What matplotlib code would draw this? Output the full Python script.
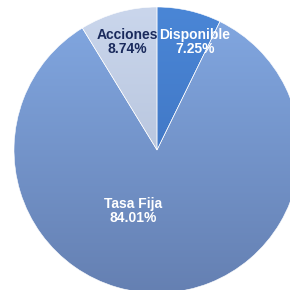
import numpy as np
import matplotlib.pyplot as plt
from matplotlib.colors import to_rgb

# Portfolio composition
labels = ["Disponible", "Tasa Fija", "Acciones"]
shares = [7.25, 84.01, 8.74]
top_colors = ["#4A86D6", "#82A8E2", "#CAD6EC"]
bottom_colors = ["#3A6CB8", "#6580B2", "#A9B8D2"]
text_colors = ["white", "white", "#1A2A5C"]
label_pos = [(195, 42), (133, 211), (127, 42)]  # pixel positions (from top-left)

W = H = 290
fig = plt.figure(figsize=(2.9, 2.9), dpi=100)
ax = fig.add_axes([0, 0, 1, 1])
ax.set_xlim(0, W)
ax.set_ylim(0, H)
ax.set_aspect("equal")
ax.axis("off")

center = (157, H - 150)
radius = 143

wedges, _ = ax.pie(shares, startangle=90, counterclock=False, center=center,
                   radius=radius, frame=True,
                   wedgeprops=dict(edgecolor="white", linewidth=0.4))
ax.set_xlim(0, W)
ax.set_ylim(0, H)
ax.axis("off")

# vertical gradient fill clipped to each wedge
ys = np.linspace(0, 1, 256)[:, None]
for w, c0, c1 in zip(wedges, top_colors, bottom_colors):
    a, b = np.array(to_rgb(c0)), np.array(to_rgb(c1))
    grad = a[None, None, :] * (1 - ys[..., None]) + b[None, None, :] * ys[..., None]
    grad = np.repeat(grad, 2, axis=1)
    w.set_facecolor("none")
    im = ax.imshow(grad, extent=(center[0] - radius, center[0] + radius,
                                 center[1] - radius, center[1] + radius),
                   origin="upper", aspect="auto", zorder=w.get_zorder() - 0.1,
                   interpolation="bilinear")
    im.set_clip_path(w)

for lab, val, col, (px, py) in zip(labels, shares, text_colors, label_pos):
    ax.text(px, H - py, f"{lab}\n{val:.2f}%", ha="center", va="center",
            color=col, fontsize=10, fontweight="bold",
            family=["Liberation Sans", "DejaVu Sans"], linespacing=1.0)

ax.set_xlim(0, W)
ax.set_ylim(0, H)
fig.savefig("out.png", dpi=100)
